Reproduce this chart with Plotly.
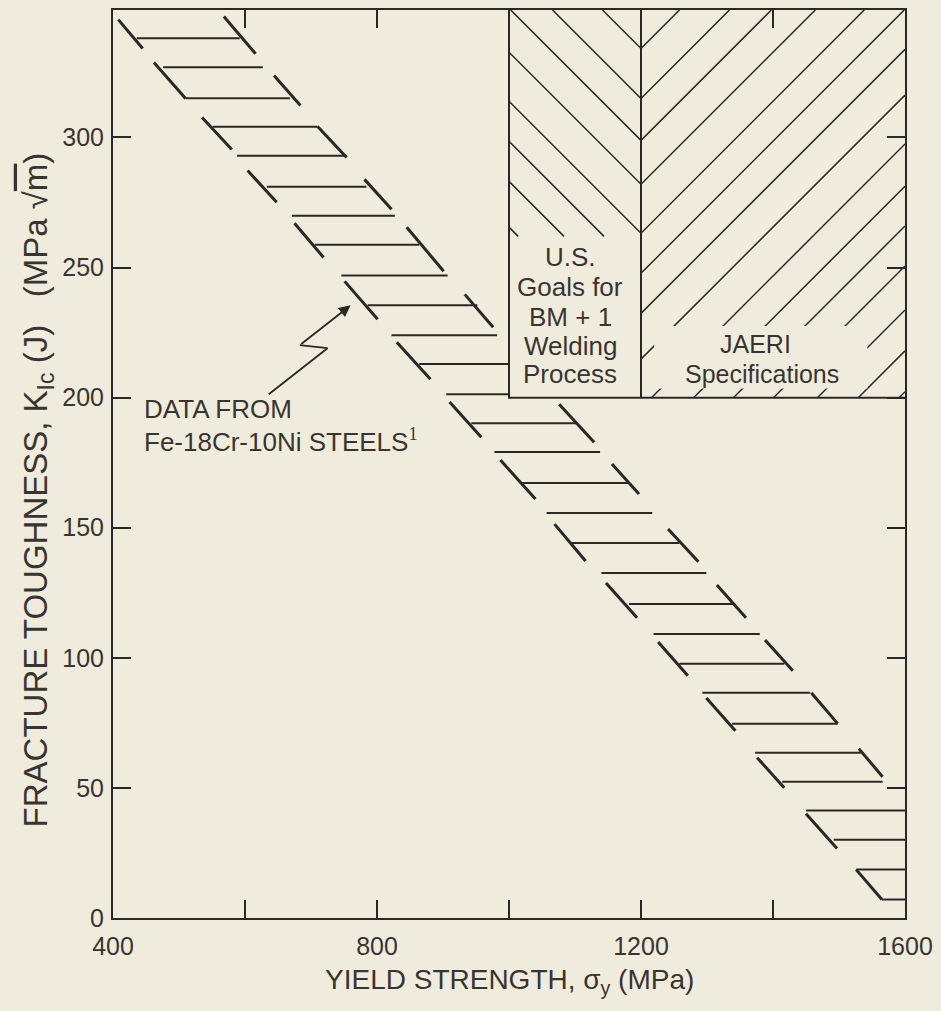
import plotly.graph_objects as go

# ---- scatter band of Fe-18Cr-10Ni steel data: horizontal hatch strokes ----
band_y = [338.1, 327.0, 315.1, 304.1, 293.0, 281.1, 269.9, 258.8, 247.0, 235.5,
          224.0, 212.9, 201.3, 190.2, 179.1, 167.2, 155.7, 144.1, 132.6, 120.7,
          109.2, 97.7, 86.6, 74.7, 63.5, 52.4, 41.3, 30.1, 18.6, 7.1]
band_x0 = [436, 476, 510, 551, 588, 633, 671, 706, 746, 786,
           822, 864, 905, 943, 978, 1020, 1057, 1094, 1140, 1182,
           1219, 1258, 1293, 1338, 1373, 1414, 1450, 1492, 1526, 1565]
band_x1 = [592, 627, 668, 710, 754, 784, 827, 864, 907, 952,
           982, 1000, 1000, 1102, 1138, 1182, 1217, 1258, 1299, 1341,
           1380, 1417, 1456, 1498, 1533, 1566, 1600, 1600, 1600, 1600]

# ---- band edge strokes (x0, y0) -> (x1, y1) ----
edge_x0 = [408, 568, 462, 644, 535, 710, 604, 781, 675, 845, 751, 933, 830, 910, 1076,
           987, 1156, 1069, 1241, 1147, 1315, 1226, 1388, 1299, 1458, 1530, 1376, 1450, 1526]
edge_y0 = [345.3, 346.5, 328.8, 323.8, 307.7, 304.2, 287.3, 283.9, 267.0, 265.5, 244.7, 239.7,
           221.3, 198.3, 197.5, 176.0, 174.5, 151.4, 149.5, 128.8, 128.0, 106.1, 106.9, 84.6,
           86.6, 65.1, 61.6, 40.1, 18.6]
edge_x1 = [445, 616, 510, 684, 580, 754, 648, 822, 719, 901, 801, 976, 881, 958, 1129,
           1040, 1197, 1116, 1287, 1194, 1359, 1271, 1430, 1343, 1498, 1566, 1417, 1497, 1565]
edge_y1 = [334.2, 332.2, 315.0, 312.3, 295.4, 292.3, 275.1, 272.4, 253.9, 248.6, 230.1, 227.1,
           207.1, 184.8, 182.9, 161.0, 163.0, 137.2, 136.9, 115.4, 115.4, 93.1, 95.0, 72.0,
           74.7, 54.3, 50.1, 26.7, 7.1]

# ---- pointer from the label to the band ----
arrow_x = [636, 725, 683, 760]
arrow_y = [201.3, 219.0, 220.2, 235.5]

# ---- goal regions ----
US_X = [1000, 1200]
JAERI_X = [1200, 1600]
GOAL_Y0 = 200
Y_TOP = 349
X_RANGE = [400, 1600]

# hatch line levels where the strokes cross sigma_y = 1200
hatch_levels = [334.2, 315.0, 298.9, 282.0, 263.2, 247.8, 232.4, 214.8, 196.0,
                179.8, 164.5, 149.1, 132.2, 116.5, 100.8]
HATCH_SLOPE = 0.2537      # 45 degree strokes on screen
US_HATCH_FLOOR = 262      # hatch stops above the U.S. caption

x_ticks = [400, 800, 1200, 1600]
x_minor = [600, 1000, 1400]
y_ticks = [0, 50, 100, 150, 200, 250, 300]

BG = "#f0ecdd"
INK = "#2c2624"
TXT = "#3a3431"
SANS = "Liberation Sans, Arial, sans-serif"


def segs(x0, y0, x1, y1):
    xs, ys = [], []
    for a, b, c, d in zip(x0, y0, x1, y1):
        xs += [a, c, None]
        ys += [b, d, None]
    return xs, ys


fig = go.Figure()

# band hatch
hx, hy = segs(band_x0, band_y, band_x1, band_y)
fig.add_trace(go.Scatter(x=hx, y=hy, mode="lines", line=dict(color=INK, width=2),
                         hoverinfo="skip", showlegend=False))
ex, ey = segs(edge_x0, edge_y0, edge_x1, edge_y1)
fig.add_trace(go.Scatter(x=ex, y=ey, mode="lines", line=dict(color=INK, width=3),
                         hoverinfo="skip", showlegend=False))

# chevron hatching of the two goal regions
gx, gy = [], []
mid = US_X[1]
for c in hatch_levels:
    # right-hand region: strokes rising to the right
    xa = max(mid, mid + (GOAL_Y0 - c) / HATCH_SLOPE)
    xb = min(JAERI_X[1], mid + (Y_TOP - c) / HATCH_SLOPE)
    if xb > xa:
        gx += [xa, xb, None]
        gy += [c + HATCH_SLOPE * (xa - mid), c + HATCH_SLOPE * (xb - mid), None]
    # left-hand region: strokes rising to the left
    xl = max(US_X[0], mid - (Y_TOP - c) / HATCH_SLOPE)
    xr = min(mid, mid - (US_HATCH_FLOOR - c) / HATCH_SLOPE)
    if xr > xl:
        gx += [xl, xr, None]
        gy += [c + HATCH_SLOPE * (mid - xl), c + HATCH_SLOPE * (mid - xr), None]
fig.add_trace(go.Scatter(x=gx, y=gy, mode="lines", line=dict(color=INK, width=1.5),
                         hoverinfo="skip", showlegend=False))

# outlines of the goal regions
ox = [US_X[0], US_X[0], JAERI_X[1], None, mid, mid]
oy = [Y_TOP, GOAL_Y0, GOAL_Y0, None, GOAL_Y0, Y_TOP]
fig.add_trace(go.Scatter(x=ox, y=oy, mode="lines", line=dict(color=INK, width=2),
                         hoverinfo="skip", showlegend=False))

# pointer line (zig-zag part)
fig.add_trace(go.Scatter(x=arrow_x[:3], y=arrow_y[:3], mode="lines",
                         line=dict(color=INK, width=1.8),
                         hoverinfo="skip", showlegend=False))

# clear area behind the JAERI caption
fig.add_shape(type="rect", x0=1220, x1=1543, y0=203.5, y1=227.5,
              fillcolor=BG, line=dict(width=0), layer="above")

ann = []
# arrow head
ann.append(dict(x=arrow_x[3], y=arrow_y[3], ax=arrow_x[2], ay=arrow_y[2],
                xref="x", yref="y", axref="x", ayref="y", text="",
                showarrow=True, arrowhead=2, arrowsize=1.3, arrowwidth=1.8,
                arrowcolor=INK, standoff=0))

tf = dict(family=SANS, size=26, color=TXT)
ann.append(dict(x=444, y=195.6, xref="x", yref="y", text="DATA FROM",
                xanchor="left", yanchor="middle", showarrow=False, font=tf))
ann.append(dict(x=444, y=183.7, xref="x", yref="y",
                text="Fe-18Cr-10Ni STEELS<sup><span style='font-family:Liberation Serif'>1</span></sup>",
                xanchor="left", yanchor="middle", showarrow=False, font=tf))

for txt, yy in [("U.S.", 253.9), ("Goals for", 242.4), ("BM + 1", 230.9),
                ("Welding", 219.8), ("Process", 209.0)]:
    ann.append(dict(x=1093, y=yy, xref="x", yref="y", text=txt, xanchor="center",
                    yanchor="middle", showarrow=False, font=tf))
cf = dict(family=SANS, size=25, color=TXT)
ann.append(dict(x=1374, y=220.6, xref="x", yref="y", text="JAERI", xanchor="center",
                yanchor="middle", showarrow=False, font=cf))
ann.append(dict(x=1383, y=209.2, xref="x", yref="y", text="Specifications",
                xanchor="center", yanchor="middle", showarrow=False, font=cf))

# axis titles
ann.append(dict(x=0.5, y=-0.0698, xref="paper", yref="paper",
                text="YIELD STRENGTH, σ<sub>y</sub> (MPa)", xanchor="center",
                yanchor="middle", showarrow=False,
                font=dict(family=SANS, size=28, color=TXT)))
ann.append(dict(x=-0.0946, y=0.471, xref="paper", yref="paper", textangle=-90,
                text="FRACTURE TOUGHNESS, K<sub>Ic</sub> (J)   (MPa √<span style='text-decoration:overline'>m</span>)",
                xanchor="center", yanchor="middle", showarrow=False,
                font=dict(family=SANS, size=33, color=TXT)))

axis_common = dict(showline=True, linecolor=INK, linewidth=2, mirror="ticks",
                   ticks="inside", ticklen=18, tickwidth=1.5, tickcolor=INK,
                   showgrid=False, zeroline=False,
                   tickfont=dict(family=SANS, size=25, color=TXT))

fig.update_layout(
    width=941, height=1011,
    margin=dict(l=113, r=35, t=8, b=93),
    paper_bgcolor=BG, plot_bgcolor=BG,
    xaxis=dict(range=X_RANGE, tickvals=x_ticks, ticklabelstandoff=5,
               minor=dict(tickvals=x_minor, ticks="inside", ticklen=18,
                          tickwidth=1.5, tickcolor=INK),
               **axis_common),
    yaxis=dict(range=[0, Y_TOP], tickvals=y_ticks, ticklabelstandoff=2,
               **axis_common),
    annotations=ann,
    showlegend=False,
)

fig.write_html("out.html")
